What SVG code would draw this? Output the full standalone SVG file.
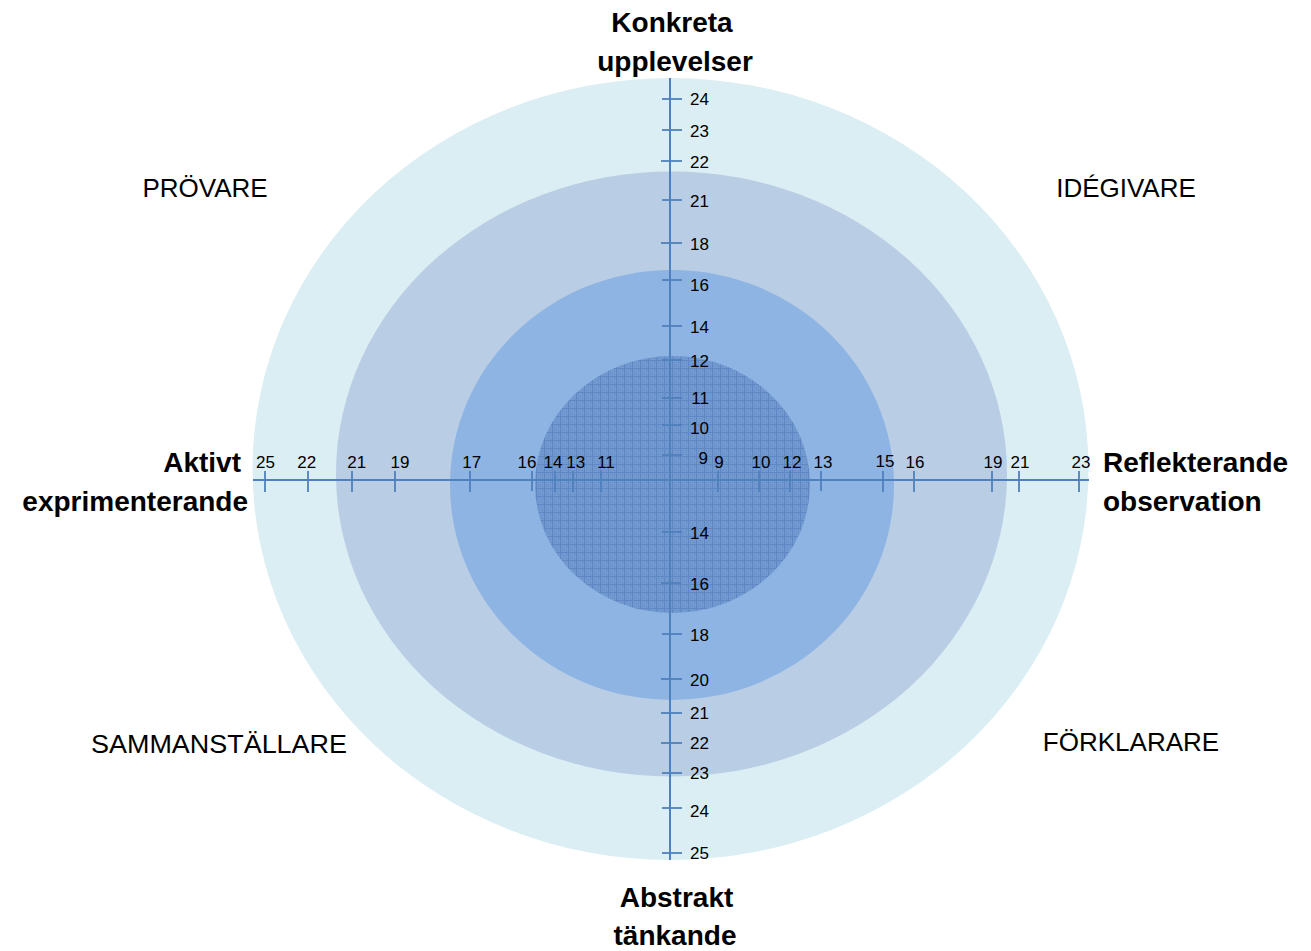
<svg xmlns="http://www.w3.org/2000/svg" width="1311" height="951" viewBox="0 0 1311 951">
<defs>
<pattern id="grid" width="8" height="8" patternUnits="userSpaceOnUse">
<rect width="8" height="8" fill="#7399D1"/>
<rect x="2" y="2" width="1" height="1" fill="#6288C4"/>
<rect x="4" y="4" width="1" height="1" fill="#6288C4"/>
<rect x="6" y="2" width="1" height="1" fill="#6288C4"/>
<rect x="2" y="6" width="1" height="1" fill="#6288C4"/>
<rect x="6" y="6" width="1" height="1" fill="#6288C4"/>
<rect x="0" y="0" width="8" height="1" fill="#5F87C3"/>
<rect x="0" y="0" width="1" height="8" fill="#5F87C3"/>
</pattern>
</defs>
<style>
.ax{stroke:#4F81BD;stroke-width:2;fill:none}
.tk{stroke:#4F81BD;stroke-width:1.8;fill:none}
.n{font-family:"Liberation Sans",Arial,sans-serif;font-size:17px;fill:#000}
.v{text-anchor:end}
.h{text-anchor:middle}
.b{font-family:"Liberation Sans",Arial,sans-serif;font-size:28px;font-weight:bold;fill:#000}
.r{font-family:"Liberation Sans",Arial,sans-serif;font-size:26px;fill:#000;text-anchor:middle}
</style>
<rect width="1311" height="951" fill="#FFFFFF"/>
<g id="ring-outer"><ellipse cx="670.5" cy="469" rx="418" ry="391" fill="#DAEEF3"/></g>
<g id="ring-2"><ellipse cx="671.5" cy="474" rx="335.5" ry="302.5" fill="#B9CDE5"/></g>
<g id="ring-3"><ellipse cx="672" cy="485" rx="222" ry="215" fill="#8EB4E3"/></g>
<g id="ring-inner"><ellipse cx="672.5" cy="484.5" rx="137.5" ry="128.5" fill="url(#grid)"/></g>
<g id="connectors">
<line class="ax" x1="670" y1="78" x2="670" y2="860"/>
<line class="ax" x1="253" y1="480" x2="1089" y2="480"/>
<g id="ticks-v">
<line class="tk" x1="662" y1="99" x2="682" y2="99"/>
<line class="tk" x1="662" y1="130" x2="682" y2="130"/>
<line class="tk" x1="661" y1="161" x2="682" y2="161"/>
<line class="tk" x1="662" y1="200" x2="682" y2="200"/>
<line class="tk" x1="661" y1="243" x2="682" y2="243"/>
<line class="tk" x1="662" y1="280" x2="682" y2="280"/>
<line class="tk" x1="662" y1="326" x2="682" y2="326"/>
<line class="tk" x1="662" y1="360" x2="682" y2="360"/>
<line class="tk" x1="662" y1="398" x2="682" y2="398"/>
<line class="tk" x1="662" y1="425" x2="682" y2="425"/>
<line class="tk" x1="662" y1="455" x2="682" y2="455"/>
<line class="tk" x1="662" y1="532" x2="682" y2="532"/>
<line class="tk" x1="661" y1="583" x2="681" y2="583"/>
<line class="tk" x1="662" y1="634" x2="682" y2="634"/>
<line class="tk" x1="661" y1="679" x2="682" y2="679"/>
<line class="tk" x1="661" y1="713" x2="682" y2="713"/>
<line class="tk" x1="661" y1="743" x2="682" y2="743"/>
<line class="tk" x1="662" y1="773" x2="682" y2="773"/>
<line class="tk" x1="662" y1="808" x2="682" y2="808"/>
<line class="tk" x1="662" y1="853" x2="682" y2="853"/>
</g>
<g id="ticks-h">
<line class="tk" x1="265" y1="471" x2="265" y2="492"/>
<line class="tk" x1="308" y1="471" x2="308" y2="492"/>
<line class="tk" x1="352" y1="471" x2="352" y2="492"/>
<line class="tk" x1="395" y1="471" x2="395" y2="492"/>
<line class="tk" x1="470" y1="471" x2="470" y2="492"/>
<line class="tk" x1="532" y1="471" x2="532" y2="491"/>
<line class="tk" x1="555" y1="471" x2="555" y2="492"/>
<line class="tk" x1="573" y1="471" x2="573" y2="492"/>
<line class="tk" x1="601" y1="471" x2="601" y2="492"/>
<line class="tk" x1="718" y1="471" x2="718" y2="492"/>
<line class="tk" x1="759" y1="471" x2="759" y2="492"/>
<line class="tk" x1="790" y1="471" x2="790" y2="492"/>
<line class="tk" x1="821" y1="471" x2="821" y2="491"/>
<line class="tk" x1="883" y1="471" x2="883" y2="492"/>
<line class="tk" x1="914" y1="471" x2="914" y2="492"/>
<line class="tk" x1="992" y1="471" x2="992" y2="492"/>
<line class="tk" x1="1019" y1="471" x2="1019" y2="492"/>
<line class="tk" x1="1079" y1="471" x2="1079" y2="492"/>
</g>
</g>
<g id="labels-v">
<text class="n v" x="709" y="105">24</text>
<text class="n v" x="709" y="137">23</text>
<text class="n v" x="709" y="168">22</text>
<text class="n v" x="709" y="207">21</text>
<text class="n v" x="709" y="250">18</text>
<text class="n v" x="709" y="291">16</text>
<text class="n v" x="709" y="333">14</text>
<text class="n v" x="709" y="367">12</text>
<text class="n v" x="709" y="404">11</text>
<text class="n v" x="709" y="434">10</text>
<text class="n v" x="708" y="464">9</text>
<text class="n v" x="709" y="539">14</text>
<text class="n v" x="709" y="590">16</text>
<text class="n v" x="709" y="641">18</text>
<text class="n v" x="709" y="686">20</text>
<text class="n v" x="709" y="719">21</text>
<text class="n v" x="709" y="749">22</text>
<text class="n v" x="709" y="779">23</text>
<text class="n v" x="709" y="817">24</text>
<text class="n v" x="709" y="859">25</text>
</g>
<g id="labels-h">
<text class="n h" x="265.5" y="468">25</text>
<text class="n h" x="306.7" y="468">22</text>
<text class="n h" x="356.7" y="468">21</text>
<text class="n h" x="400" y="468">19</text>
<text class="n h" x="471.7" y="468">17</text>
<text class="n h" x="527" y="468">16</text>
<text class="n h" x="553" y="468">14</text>
<text class="n h" x="575.7" y="468">13</text>
<text class="n h" x="606" y="468">11</text>
<text class="n h" x="719" y="468">9</text>
<text class="n h" x="761" y="468">10</text>
<text class="n h" x="792" y="468">12</text>
<text class="n h" x="823" y="468">13</text>
<text class="n h" x="885" y="467">15</text>
<text class="n h" x="915" y="468">16</text>
<text class="n h" x="993" y="468">19</text>
<text class="n h" x="1020" y="468">21</text>
<text class="n h" x="1081" y="468">23</text>
</g>
<g id="node-konkreta">
<text class="b" x="672" y="32" text-anchor="middle">Konkreta</text>
<text class="b" x="675" y="71" text-anchor="middle">upplevelser</text>
</g>
<g id="node-abstrakt">
<text class="b" x="676.5" y="907" text-anchor="middle">Abstrakt</text>
<text class="b" x="675" y="945" text-anchor="middle">tänkande</text>
</g>
<g id="node-aktivt">
<text class="b" x="241" y="472" text-anchor="end">Aktivt</text>
<text class="b" x="248" y="511" text-anchor="end">exprimenterande</text>
</g>
<g id="node-reflekterande">
<text class="b" x="1103" y="472">Reflekterande</text>
<text class="b" x="1103" y="511">observation</text>
</g>
<g id="node-provare"><text class="r" x="205" y="197">PRÖVARE</text></g>
<g id="node-idegivare"><text class="r" x="1126" y="197">IDÉGIVARE</text></g>
<g id="node-sammanstallare"><text class="r" x="219" y="753" textLength="256" lengthAdjust="spacingAndGlyphs">SAMMANSTÄLLARE</text></g>
<g id="node-forklarare"><text class="r" x="1131" y="751">FÖRKLARARE</text></g>
</svg>
